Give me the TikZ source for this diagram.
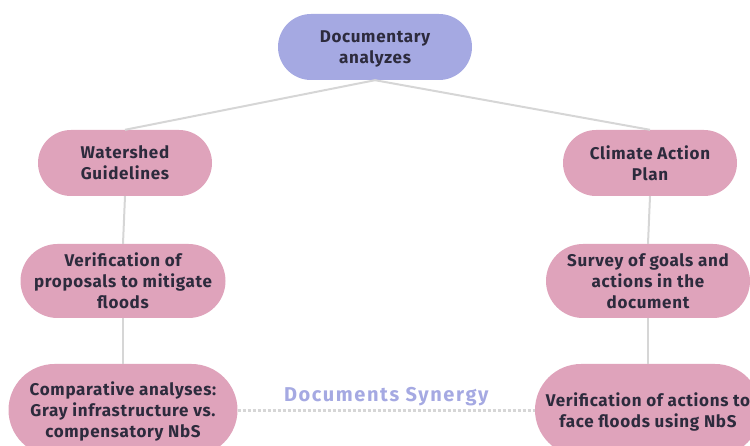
\documentclass[tikz,border=0pt]{standalone}
\usepackage{fontspec}
\setmainfont{Fira Sans}
\newfontfamily\pillfont[LetterSpace=4]{Fira Sans}
\newfontfamily\synfont[LetterSpace=8]{Fira Sans}
\usetikzlibrary{calc, positioning}

\definecolor{lavender}{HTML}{A5A9E2}
\definecolor{rosebox}{HTML}{DFA3BB}
\definecolor{inkdark}{HTML}{2D2B3D}
\definecolor{linkgray}{HTML}{D6D6D6}

\tikzset{
  pill/.style={fill=#1, draw=none, text=inkdark, align=center,
    font=\pillfont\bfseries\fontsize{17}{21}\selectfont, inner sep=0pt,
    text depth=0pt},
  link/.style={linkgray, line width=2pt},
  synergy/.style={linkgray, line width=3pt, dash pattern=on 3pt off 2pt}
}

\begin{document}
\begin{tikzpicture}[x=1pt,y=-1pt]
\useasboundingbox (0,0) rectangle (750,446);

% top of the tree
\node[pill=lavender, minimum width=194pt, minimum height=66pt, rounded corners=33pt]
  (Docs) at (375,47) {Documentary\\analyzes};

% the two documents
\node[pill=rosebox, minimum width=174pt, minimum height=66pt, rounded corners=33pt]
  (Watershed) at (125,163) {Watershed\\Guidelines};
\node[pill=rosebox, minimum width=174pt, minimum height=66pt, rounded corners=33pt]
  (Climate) at (650,163) {Climate Action\\Plan};

\node[pill=rosebox, minimum width=205pt, minimum height=74pt, rounded corners=37pt]
  (Proposals) at (123,281) {Verification of\\proposals to mitigate\\floods};
\node[pill=rosebox, minimum width=204pt, minimum height=74pt, rounded corners=37pt]
  (Goals) at (648,281) {Survey of goals and\\actions in the\\document};

\node[pill=rosebox, minimum width=229pt, minimum height=92pt, rounded corners=46pt]
  (Compare) at (123,410) {Comparative analyses:\\Gray infrastructure vs.\\compensatory NbS};
\node[pill=rosebox, minimum width=226pt, minimum height=92pt, rounded corners=46pt]
  (Actions) at (648,410) {Verification of actions to\\face floods using NbS};

% connectors
\draw[link] (Docs.south) -- (Watershed.north);
\draw[link] (Docs.south) -- (Climate.north);
\draw[link] (Watershed.south) -- (Proposals.north);
\draw[link] (Proposals.south) -- (Compare.north);
\draw[link] (Climate.south) -- (Goals.north);
\draw[link] (Goals.south) -- (Actions.north);

\draw[synergy] (Compare.east) -- (Actions.west)
  node[midway, above=3pt, inner sep=0pt, text=lavender,
    font=\synfont\bfseries\fontsize{20}{22}\selectfont]
  (SynergyLabel) {Documents Synergy};
\end{tikzpicture}
\end{document}
